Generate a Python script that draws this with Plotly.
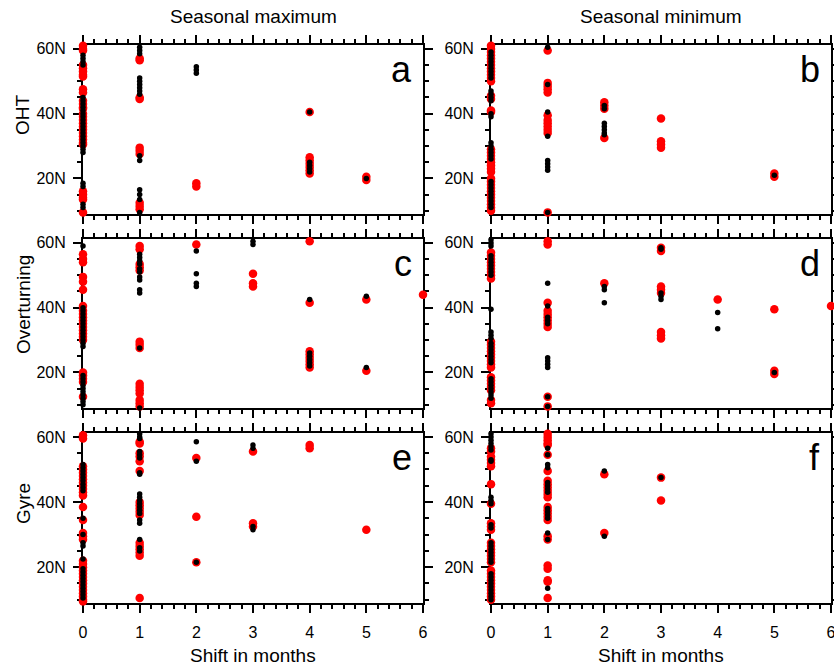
import plotly.graph_objects as go

# ---- data: latitude of points per shift (months) ----
a_red = {0: [61, 60, 59.5, 55, 54, 53, 52, 51.5, 47.5, 46.5, 44, 43, 42, 41.5, 40, 39, 38, 37, 36, 35, 34, 33, 32, 31, 30.5, 16, 15, 14, 13.5, 9.5],
         1: [57, 56.5, 45, 44.5, 29.5, 28.5, 27.5, 12.5, 11.5, 10.5],
         2: [18.5, 17.5],
         4: [40.5, 26.5, 25.5, 24.5, 23.5, 22.5, 21.5],
         5: [20.5, 19.5]}
a_black = {0: [58, 57, 56, 55, 45, 44, 43, 42, 41, 40, 39, 38, 37, 36, 35, 34, 33, 32, 31, 30, 29, 28, 18.5, 17.5, 12, 11],
           1: [60.5, 59.5, 58.5, 51, 50, 49, 48, 47, 46, 27, 25.5, 16.5, 15, 13.5, 9.5],
           2: [54.5, 53.5, 52.5],
           4: [40.5, 25, 24, 23, 22],
           5: [20]}

b_red = {0: [61, 60, 59, 58, 57, 56, 55, 54, 53, 52, 51, 50, 45.5, 44.5, 41, 40.5, 29, 28, 27, 26, 25, 24, 23, 22, 20, 19, 18, 17, 16, 15, 14, 13, 12, 11, 10],
         1: [59.5, 49.5, 48.5, 47.5, 46.5, 39.5, 38, 37, 36, 35, 34, 9.5],
         2: [43.5, 42.5, 41.5, 32.5],
         3: [38.5, 31.5, 30.5, 29.5],
         5: [21.5, 20.5]}
b_black = {0: [59, 58, 57, 56, 55, 54, 53, 52, 51, 47, 46, 45, 44, 40, 39, 31, 30, 29, 28, 27, 26, 19, 18, 17, 16, 15, 14, 13, 12, 11],
           1: [60.5, 49, 40.5, 33, 25.5, 24.5, 23.5, 22.5, 9.5],
           2: [42.5, 41.5, 37, 36, 35, 34, 33.5],
           5: [21]}

c_red = {0: [56.5, 55, 54, 49.5, 48, 45.5, 40.5, 39, 38, 37, 36, 35, 34, 33, 32, 31, 30, 20, 19, 18, 17, 12.5],
         1: [59, 58, 53.5, 52.5, 51.5, 29.5, 28.5, 27.5, 16.5, 15.5, 14.5, 13.5, 11.5, 10.5, 9.5],
         2: [59.5],
         3: [50.5, 47.5, 46.5],
         4: [60.5, 41.5, 26.5, 25.5, 24.5, 23.5, 22.5, 21.5],
         5: [42.5, 20.5],
         6: [44]}
c_black = {0: [59, 40, 39, 38, 37, 36, 35, 34, 33, 32, 31, 30, 29, 28, 19, 18, 17, 16, 15, 14, 13, 12, 11, 10],
           1: [56.5, 55.5, 54.5, 53.5, 52, 51, 49.5, 48.5, 45.5, 44.5, 27.5, 9],
           2: [57.5, 50.5, 47.5, 46.5],
           3: [60.5, 59.5],
           4: [42.5, 26, 25, 24, 23, 22],
           5: [43.5, 21.5]}

d_red = {0: [57, 56, 55, 54, 53, 52, 51, 50, 49, 29.5, 28.5, 27.5, 26.5, 25.5, 24.5, 23.5, 22.5, 21.5, 18.5, 17.5, 16.5, 15.5, 14.5, 11.5, 10.5],
         1: [60.5, 59.5, 41.5, 39, 38, 37, 36, 35, 34, 12.5, 9.5],
         2: [47.5],
         3: [58.5, 57.5, 46.5, 45.5, 44.5, 32.5, 31.5, 30.5],
         4: [42.5],
         5: [39.5, 20.5, 19.5],
         6: [40.5]}
d_black = {0: [61, 60, 59, 56, 55, 54, 53, 52, 51, 50, 39.5, 32.5, 31.5, 30.5, 29, 28, 27, 26, 25, 24, 23, 18, 17, 16, 15, 14, 13, 12],
           1: [47.5, 40.5, 37, 36, 35, 24.5, 23.5, 22.5, 21.5, 12.5, 9.5],
           2: [46.5, 45.5, 41.5],
           3: [58.5, 58, 44.5, 43.5, 42.5],
           4: [38.5, 33.5],
           5: [20]}

e_red = {0: [60.5, 59.5, 51, 50, 49, 48, 47, 46, 45, 44, 43, 42, 38.5, 34.5, 30.5, 29.5, 28.5, 22, 21, 20, 19, 18, 17, 16, 15, 14, 13, 12, 11, 10, 9.5],
         1: [58.5, 58, 55, 54, 52.5, 49.5, 40, 39, 38, 37, 36, 27.5, 26.5, 25.5, 24.5, 23.5, 10.5],
         2: [53.5, 35.5, 21.5],
         3: [55.5, 33.5, 32.5],
         4: [57.5, 56.5],
         5: [31.5]}
e_black = {0: [51.5, 50.5, 49.5, 48.5, 47.5, 46.5, 45.5, 44.5, 43.5, 35, 30, 27.5, 26.5, 22.5, 19.5, 18.5, 17.5, 16.5, 15.5, 14.5, 13.5, 12.5, 11.5, 10.5],
           1: [61, 60, 59.5, 55.5, 54.5, 53.5, 49, 48.5, 42.5, 41.5, 40.5, 39.5, 38.5, 37.5, 36.5, 34.5, 33.5, 28.5, 26, 25],
           2: [58.5, 52.5, 21.5],
           3: [57.5, 56.5, 32.5, 31.5]}

f_red = {0: [56.5, 55.5, 54, 53, 52, 51, 45.5, 39.5, 33.5, 32.5, 31.5, 27.5, 26.5, 25.5, 24.5, 23.5, 22.5, 21.5, 19, 18, 17, 16, 15, 14, 13, 12, 11, 10],
         1: [61, 60, 59, 58, 57.5, 54.5, 49.5, 46.5, 45.5, 44.5, 43.5, 42.5, 41.5, 38.5, 37.5, 36.5, 35.5, 34.5, 29.5, 28.5, 20.5, 19.5, 16, 15.5, 10.5],
         2: [48.5, 30.5],
         3: [47.5, 40.5]}
f_black = {0: [61, 60, 59, 58, 57, 56, 53, 52.5, 41.5, 40.5, 39.5, 33, 32, 27.5, 26.5, 25.5, 24.5, 23.5, 22.5, 21.5, 18, 17, 16, 15, 14, 13, 12, 11, 10],
           1: [56.5, 54.5, 51.5, 50.5, 46, 45, 44, 43, 38, 37, 36, 35, 30.5, 28.5, 13.5],
           2: [49.5, 29.5],
           3: [47.5]}

panel_letters = ["a", "b", "c", "d", "e", "f"]
col_titles = ["Seasonal maximum", "Seasonal minimum"]
row_titles = ["OHT", "Overturning", "Gyre"]
x_title = "Shift in months"

panels = [(a_red, a_black), (b_red, b_black), (c_red, c_black),
          (d_red, d_black), (e_red, e_black), (f_red, f_black)]

W, H = 834, 666
FONT = "Liberation Sans, Arial, Helvetica, sans-serif"

# plot area pixel boxes
col_px = [(83, 423), (491, 831)]
row_px = [(45, 214), (239, 408), (433, 603)]


def flat(d):
    xs, ys = [], []
    for k, v in d.items():
        xs += [k] * len(v)
        ys += v
    return xs, ys


fig = go.Figure()
layout = dict(width=W, height=H, margin=dict(l=0, r=0, t=0, b=0),
              paper_bgcolor="white", plot_bgcolor="white", showlegend=False,
              font=dict(family=FONT, color="black", size=16))

for i, (red, black) in enumerate(panels):
    r, c = divmod(i, 2)
    n = i + 1
    xa = "x" if n == 1 else f"x{n}"
    ya = "y" if n == 1 else f"y{n}"
    rx, ry = flat(red)
    bx, by = flat(black)
    fig.add_trace(go.Scatter(x=rx, y=ry, mode="markers", xaxis=xa, yaxis=ya,
                             marker=dict(color="#ff0000", size=8.5, line=dict(width=0)),
                             cliponaxis=False, hoverinfo="skip"))
    fig.add_trace(go.Scatter(x=bx, y=by, mode="markers", xaxis=xa, yaxis=ya,
                             marker=dict(color="black", size=5.5, line=dict(width=0)),
                             cliponaxis=False, hoverinfo="skip"))
    x0, x1 = col_px[c]
    y0, y1 = row_px[r]
    xkey = "xaxis" if n == 1 else f"xaxis{n}"
    ykey = "yaxis" if n == 1 else f"yaxis{n}"
    layout[xkey] = dict(domain=[x0 / W, x1 / W], anchor=ya, range=[0, 6],
                        tickmode="linear", tick0=0, dtick=1,
                        showticklabels=(r == 2), ticks="outside", ticklen=8, tickwidth=2,
                        tickcolor="black", showline=True, linewidth=2, linecolor="black",
                        mirror="ticks", showgrid=False, zeroline=False,
                        tickfont=dict(size=16), ticklabelstandoff=6,
                        ticklabeloverflow="allow",
                        layer="below traces", automargin=False,
                        minor=dict(ticks="outside", dtick=0.2, tick0=0, ticklen=4,
                                   tickwidth=1.5, tickcolor="black", showgrid=False))
    layout[ykey] = dict(domain=[1 - y1 / H, 1 - y0 / H], anchor=xa, range=[9, 61.2],
                        tickmode="linear", tick0=0, dtick=20, ticksuffix="N",
                        ticks="outside", ticklen=8, tickwidth=2, tickcolor="black",
                        showline=True, linewidth=2, linecolor="black", mirror="ticks",
                        showgrid=False, zeroline=False, tickfont=dict(size=16),
                        ticklabelstandoff=4, ticklabeloverflow="allow",
                        layer="below traces", automargin=False,
                        minor=dict(ticks="outside", dtick=5, tick0=0, ticklen=4,
                                   tickwidth=1.5, tickcolor="black", showgrid=False))

annotations = []
for i, letter in enumerate(panel_letters):
    n = i + 1
    xa = "x" if n == 1 else f"x{n}"
    ya = "y" if n == 1 else f"y{n}"
    annotations.append(dict(text=letter, xref=f"{xa} domain", yref=f"{ya} domain",
                            x=1, y=1, xanchor="right", yanchor="top", xshift=-9, yshift=-2,
                            showarrow=False, font=dict(size=36, family=FONT)))
for c, t in enumerate(col_titles):
    cx = (col_px[c][0] + col_px[c][1]) / 2
    annotations.append(dict(text=t, xref="paper", yref="paper", x=cx / W, y=1 - 16 / H,
                            xanchor="center", yanchor="middle", showarrow=False,
                            font=dict(size=19, family=FONT)))
    annotations.append(dict(text=x_title, xref="paper", yref="paper", x=cx / W, y=1 - 655 / H,
                            xanchor="center", yanchor="middle", showarrow=False,
                            font=dict(size=19, family=FONT)))
row_cy = [115, 305, 504]
for r, t in enumerate(row_titles):
    annotations.append(dict(text=t, xref="paper", yref="paper", x=23 / W, y=1 - row_cy[r] / H,
                            xanchor="center", yanchor="middle", textangle=-90, showarrow=False,
                            font=dict(size=19, family=FONT)))
layout["annotations"] = annotations

fig.update_layout(**layout)
fig.write_html("out.html")
